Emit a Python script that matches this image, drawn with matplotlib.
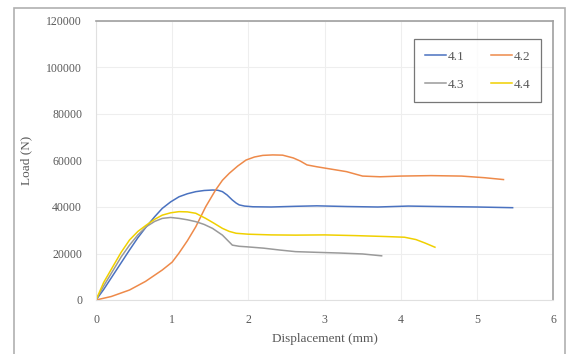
import numpy as np
import matplotlib.pyplot as plt
from matplotlib.patches import Rectangle

# load-displacement curves for specimens 4.1 - 4.4
disp_41 = [0, 0.1, 0.2, 0.3, 0.44, 0.55, 0.66, 0.77, 0.87, 0.98, 1.09, 1.2, 1.31, 1.42, 1.53, 1.6,
           1.66, 1.72, 1.79, 1.84, 1.88, 1.95, 2.06, 2.3, 2.62, 2.9, 3.3, 3.7, 4.1, 4.5, 5.0, 5.47]
load_41 = [0, 4500, 9500, 14500, 21500, 26800, 31500, 35800, 39400, 42200, 44400, 45700, 46600, 47100, 47300, 47200,
           46600, 45200, 43000, 41700, 40900, 40400, 40100, 40000, 40300, 40500, 40200, 40000, 40400, 40200, 40000, 39700]

disp_42 = [0, 0.2, 0.44, 0.65, 0.87, 1.0, 1.09, 1.2, 1.31, 1.44, 1.57, 1.66, 1.75, 1.86, 1.97, 2.08, 2.19, 2.32, 2.45,
           2.59, 2.68, 2.77, 2.9, 3.03, 3.16, 3.29, 3.4, 3.5, 3.73, 4.0, 4.4, 4.8, 5.1, 5.35]
load_42 = [0, 1500, 4300, 8000, 12900, 16300, 20200, 25500, 31500, 40100, 47300, 51500, 54500, 57600, 60200, 61500, 62200, 62400, 62300,
           61100, 59800, 58100, 57300, 56600, 55900, 55200, 54200, 53300, 53000, 53300, 53500, 53300, 52600, 51800]

disp_43 = [0, 0.1, 0.22, 0.33, 0.44, 0.55, 0.66, 0.77, 0.87, 0.98, 1.09, 1.2, 1.31, 1.42, 1.53, 1.66, 1.79, 1.88, 1.97,
           2.2, 2.41, 2.62, 2.9, 3.2, 3.5, 3.75]
load_43 = [0, 6000, 12500, 18500, 23600, 28000, 31500, 33800, 35100, 35500, 35100, 34500, 33700, 32500, 30800, 27900, 23600, 23100, 22900,
           22300, 21500, 20800, 20500, 20200, 19800, 19000]

disp_44 = [0, 0.1, 0.22, 0.33, 0.44, 0.55, 0.66, 0.77, 0.87, 0.98, 1.09, 1.2, 1.31, 1.44, 1.55, 1.66, 1.75, 1.84, 2.0,
           2.3, 2.62, 3.0, 3.4, 3.8, 4.05, 4.2, 4.32, 4.45]
load_44 = [0, 7500, 14300, 20500, 25800, 29500, 32200, 34700, 36500, 37500, 38000, 37900, 37300, 35100, 33000, 30800, 29500, 28700, 28300,
           28000, 27900, 28000, 27700, 27300, 27000, 26000, 24500, 22700]

labels = ['4.1', '4.2', '4.3', '4.4']
colors = ['#4a72c0', '#ee8a4a', '#9a9a9a', '#f0d000']

plt.rcParams['font.family'] = 'Liberation Serif'
txt = '#595959'

fig = plt.figure(figsize=(5.68, 3.54), dpi=100)
ax = fig.add_axes([96 / 568, 1 - 300 / 354, (553 - 96) / 568, (300 - 21) / 354])

series = [(disp_41, load_41), (disp_42, load_42), (disp_43, load_43), (disp_44, load_44)]
lines = []
for (x, y), lab, c in zip(series, labels, colors):
    ln, = ax.plot(x, y, color=c, lw=1.1, label=lab, solid_joinstyle='round')
    lines.append(ln)

ax.set_xlim(0, 6)
ax.set_ylim(0, 120000)
ax.set_xticks(range(0, 7))
ax.set_yticks(range(0, 120001, 20000))
ax.grid(True, color='#eeeeee', lw=0.8)
ax.set_axisbelow(True)
for side in ['top', 'right']:
    ax.spines[side].set_color('#a0a0a0')
    ax.spines[side].set_linewidth(1.2)
for side in ['left', 'bottom']:
    ax.spines[side].set_color('#e0e0e0')
    ax.spines[side].set_linewidth(0.8)
ax.tick_params(length=0, labelsize=8.5, labelcolor=txt)
ax.tick_params(axis='y', pad=10)
ax.tick_params(axis='x', pad=10)
ax.set_xlabel('Displacement (mm)', fontsize=9.5, color=txt, labelpad=5)
ax.set_ylabel('Load (N)', fontsize=9.5, color=txt, labelpad=10)

# matplotlib fills legend columns first, so reorder to get 4.1 4.2 / 4.3 4.4
order = [0, 2, 1, 3]
leg = ax.legend([lines[i] for i in order], [labels[i] for i in order], ncol=2,
                loc='upper right', bbox_to_anchor=(0.974, 0.935), borderaxespad=0,
                fontsize=9.5, frameon=True, fancybox=False, handlelength=1.6,
                handletextpad=0.1, columnspacing=2.0, labelspacing=1.2,
                borderpad=0.85, labelcolor=txt)
leg.get_frame().set_edgecolor('#555555')
leg.get_frame().set_linewidth(0.9)

# outer chart border
fig.patches.append(Rectangle((14 / 568, -0.01), 551 / 568, 1.01 - 8 / 354,
                             transform=fig.transFigure, fill=False,
                             edgecolor='#b0b0b0', lw=1.2))

fig.savefig('out.png', dpi=100)
